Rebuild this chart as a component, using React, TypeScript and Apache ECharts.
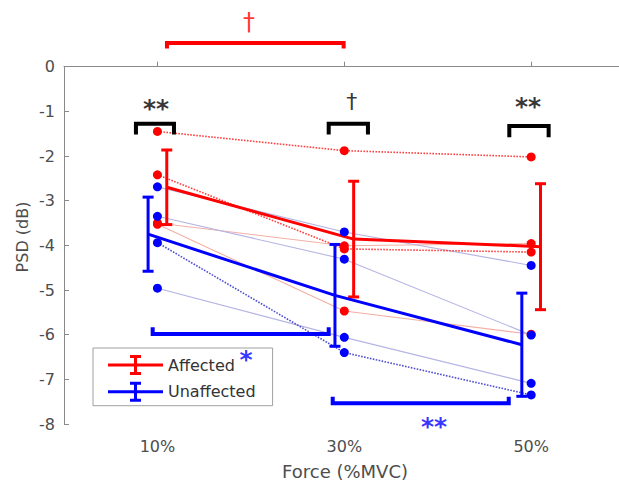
import React, { useEffect, useRef } from "react";
import * as echarts from "echarts";

// ---------- data ----------
const forceLevels = [10, 30, 50];
const xTickLabels = ["10%", "30%", "50%"];

// individual subjects (PSD, dB) at 10 / 30 / 50 %MVC
const affectedS1 = [-1.45, -1.88, -2.02];
const affectedS2 = [-2.42, -4.08, -4.15];
const affectedS3 = [-3.5, -4.01, -3.96];
const affectedS4 = [-3.53, -5.47, -5.99];
const unaffectedS1 = [-2.69, -3.7, -4.45];
const unaffectedS2 = [-3.35, -4.31, -6.01];
const unaffectedS3 = [-3.94, -6.4, -7.35];
const unaffectedS4 = [-4.96, -6.06, -7.09];

// group mean and SD
const affectedMean = [-2.7, -3.86, -4.03];
const affectedSD = [0.835, 1.295, 1.41];
const unaffectedMean = [-3.75, -5.12, -6.225];
const unaffectedSD = [0.83, 1.14, 1.155];

// significance brackets, in data units [force, PSD]
const bracketAffected = [[11.02, 0.41], [11.02, 0.53], [29.93, 0.53], [29.93, 0.41]];
const bracket10 = [[7.7, -1.52], [7.7, -1.28], [11.77, -1.28], [11.77, -1.52]];
const bracket30 = [[28.33, -1.52], [28.33, -1.28], [32.53, -1.28], [32.53, -1.52]];
const bracket50 = [[47.66, -1.58], [47.66, -1.33], [51.87, -1.33], [51.87, -1.58]];
const bracketUnaffected1 = [[9.49, -5.835], [9.49, -5.985], [28.33, -5.985], [28.33, -5.835]];
const bracketUnaffected2 = [[28.76, -7.39], [28.76, -7.537], [47.6, -7.537], [47.6, -7.39]];

// significance marks [force, PSD, text]
const blackStars = [[9.85, -0.93, "**"], [49.66, -0.89, "**"]];
const blackDaggers = [[30.8, -0.77, "†"]];
const redDaggers = [[19.8, 1.0, "†"]];
const blueStars = [[19.48, -6.55, "*"], [39.6, -8.06, "**"]];

// ---------- styling ----------
const FONT = "'DejaVu Sans', sans-serif";
const RED = "#ff0000";
const BLUE = "#0000ff";
const MEAN_OFFSET = 1;

const pts = (vals: number[], off = 0) => forceLevels.map((x, i) => [x + off, vals[i]]);

function thinLine(name: string, vals: number[], color: string, dotted: boolean) {
  return {
    type: "line",
    name,
    data: pts(vals),
    symbol: "none",
    z: dotted ? 3 : 2,
    lineStyle: dotted
      ? { color, width: 1.6, type: [1.6, 1.4], opacity: 0.85 }
      : { color, width: 1.1, opacity: 1 },
    silent: true,
  };
}

function errorBars(name: string, means: number[], sds: number[], color: string, off: number) {
  return {
    type: "custom",
    name,
    z: 5,
    data: forceLevels.map((x, i) => [x + off, means[i], sds[i]]),
    renderItem: (_p: any, api: any) => {
      const x = api.value(0);
      const m = api.value(1);
      const s = api.value(2);
      const top = api.coord([x, m + s]);
      const bot = api.coord([x, m - s]);
      const hw = 5.5;
      const st = { stroke: color, lineWidth: 3 };
      return {
        type: "group",
        children: [
          { type: "line", shape: { x1: top[0], y1: top[1], x2: bot[0], y2: bot[1] }, style: st },
          { type: "line", shape: { x1: top[0] - hw, y1: top[1], x2: top[0] + hw, y2: top[1] }, style: st },
          { type: "line", shape: { x1: bot[0] - hw, y1: bot[1], x2: bot[0] + hw, y2: bot[1] }, style: st },
        ],
      };
    },
  };
}

function bracket(name: string, data: number[][], color: string) {
  return {
    type: "line",
    name,
    data,
    symbol: "none",
    clip: false,
    z: 6,
    silent: true,
    lineStyle: { color, width: 4, cap: "butt", join: "miter" },
  };
}

function marks(name: string, data: any[], color: string, size: number, weight: string) {
  return {
    type: "scatter",
    name,
    data,
    symbolSize: 0,
    clip: false,
    z: 10,
    silent: true,
    label: {
      show: true,
      position: "inside",
      formatter: (p: any) => p.value[2],
      color,
      fontFamily: FONT,
      fontWeight: weight,
      fontSize: size,
    },
  };
}

const legendIcon =
  "path://M0,9.5H55V12.5H0Z M26,2H29V20H26Z M22,1H33V4H22Z M22,18H33V21H22Z";

export default function App() {
  const ref = useRef<HTMLDivElement>(null);
  useEffect(() => {
    if (!ref.current) return;
    const chart = echarts.init(ref.current, undefined, { renderer: "svg" });
    const affectedAll = [affectedS1, affectedS2, affectedS3, affectedS4];
    const unaffectedAll = [unaffectedS1, unaffectedS2, unaffectedS3, unaffectedS4];
    chart.setOption({
      animation: false,
      backgroundColor: "#ffffff",
      grid: { left: 64, right: 0, top: 66.7, bottom: 57, containLabel: false, outerBoundsMode: "none" },
      xAxis: {
        type: "value",
        min: 0,
        max: 59.4,
        axisLine: { show: true, lineStyle: { color: "#8a8a8a", width: 1 } },
        axisTick: { show: true, inside: true, length: 5, customValues: forceLevels, lineStyle: { color: "#8a8a8a" } },
        axisLabel: {
          customValues: forceLevels,
          formatter: (v: number) => xTickLabels[forceLevels.indexOf(v)] ?? "",
          color: "#4d4d4d",
          fontFamily: FONT,
          fontSize: 16,
          margin: 14,
        },
        splitLine: { show: false },
      },
      yAxis: {
        type: "value",
        min: -8,
        max: 0,
        interval: 1,
        axisLine: { show: true, lineStyle: { color: "#8a8a8a", width: 1 } },
        axisTick: { show: true, inside: true, length: 5, lineStyle: { color: "#8a8a8a" } },
        axisLabel: { color: "#4d4d4d", fontFamily: FONT, fontSize: 16, margin: 9 },
        splitLine: { show: false },
      },
      legend: {
        data: ["Affected", "Unaffected"],
        orient: "vertical",
        left: 93,
        top: 348,
        padding: [7, 17, 4, 15],
        itemWidth: 55,
        itemHeight: 20,
        itemGap: 6.7,
        icon: legendIcon,
        borderColor: "#a0a0a0",
        borderWidth: 1,
        backgroundColor: "#ffffff",
        selectedMode: false,
        itemStyle: { borderWidth: 0 },
        textStyle: { fontFamily: FONT, fontSize: 16, color: "#333333" },
      },
      graphic: [
        {
          type: "text",
          x: 345,
          y: 471.7,
          style: { text: "Force (%MVC)", fontFamily: FONT, fontSize: 18, fill: "#4d4d4d", align: "center", verticalAlign: "middle" },
        },
        {
          type: "text",
          x: 22,
          y: 237,
          rotation: Math.PI / 2,
          style: { text: "PSD (dB)", fontFamily: FONT, fontSize: 16, fill: "#4d4d4d", align: "center", verticalAlign: "middle" },
        },
      ],
      series: [
        thinLine("Affected S1", affectedS1, "#ff2020", true),
        thinLine("Affected S2", affectedS2, "#ff2020", true),
        thinLine("Affected S3", affectedS3, "#f3b0a6", false),
        thinLine("Affected S4", affectedS4, "#f3b0a6", false),
        thinLine("Unaffected S1", unaffectedS1, "#b4b4e4", false),
        thinLine("Unaffected S2", unaffectedS2, "#b4b4e4", false),
        thinLine("Unaffected S3", unaffectedS3, "#3030c8", true),
        thinLine("Unaffected S4", unaffectedS4, "#b4b4e4", false),
        {
          type: "line",
          name: "Affected",
          data: pts(affectedMean, MEAN_OFFSET),
          symbol: "none",
          z: 5,
          color: RED,
          lineStyle: { color: RED, width: 3 },
        },
        {
          type: "line",
          name: "Unaffected",
          data: pts(unaffectedMean, -MEAN_OFFSET),
          symbol: "none",
          z: 5,
          color: BLUE,
          lineStyle: { color: BLUE, width: 3 },
        },
        errorBars("Affected SD", affectedMean, affectedSD, RED, MEAN_OFFSET),
        errorBars("Unaffected SD", unaffectedMean, unaffectedSD, BLUE, -MEAN_OFFSET),
        {
          type: "scatter",
          name: "Affected points",
          data: affectedAll.flatMap((s) => pts(s)),
          symbolSize: 9,
          z: 7,
          itemStyle: { color: RED, opacity: 1 },
          silent: true,
        },
        {
          type: "scatter",
          name: "Unaffected points",
          data: unaffectedAll.flatMap((s) => pts(s)),
          symbolSize: 9,
          z: 7,
          itemStyle: { color: BLUE, opacity: 1 },
          silent: true,
        },
        bracket("bracket affected", bracketAffected, RED),
        bracket("bracket 10", bracket10, "#000000"),
        bracket("bracket 30", bracket30, "#000000"),
        bracket("bracket 50", bracket50, "#000000"),
        bracket("bracket unaffected 1", bracketUnaffected1, BLUE),
        bracket("bracket unaffected 2", bracketUnaffected2, BLUE),
        marks("black stars", blackStars, "#000000", 25, "bold"),
        marks("black daggers", blackDaggers, "#000000", 22, "normal"),
        marks("red daggers", redDaggers, RED, 24, "normal"),
        marks("blue stars", blueStars, BLUE, 25, "bold"),
      ],
    });
    return () => chart.dispose();
  }, []);
  return (
    <div
      ref={ref}
      style={{ position: "fixed", left: 0, top: 0, width: 619, height: 481, background: "#fff" }}
    />
  );
}
